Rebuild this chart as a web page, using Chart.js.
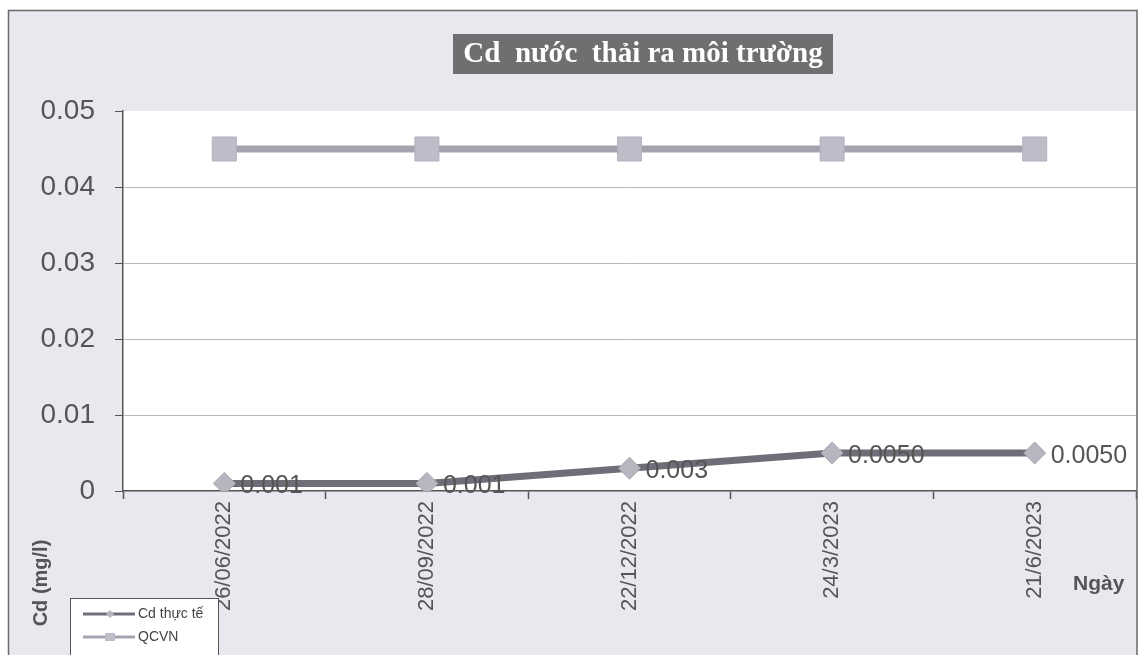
<!DOCTYPE html>
<html>
<head>
<meta charset="utf-8">
<script src="https://cdn.jsdelivr.net/npm/chart.js@4/dist/chart.umd.min.js"></script>
<style>
  html, body { margin: 0; padding: 0; background: #ffffff; }
  #wrap { width: 1143px; height: 655px; position: relative; }
</style>
</head>
<body>
<div id="wrap"><canvas id="c" width="1143" height="655"></canvas></div>
<script>
// Sampling dates and measured values
const dates = ['26/06/2022', '28/09/2022', '22/12/2022', '24/3/2023', '21/6/2023'];
const cdMeasured = [0.001, 0.001, 0.003, 0.005, 0.005];
const cdMeasuredLabels = ['0.001', '0.001', '0.003', '0.0050', '0.0050'];
const qcvnLimit = [0.045, 0.045, 0.045, 0.045, 0.045];
const yTicks = [0, 0.01, 0.02, 0.03, 0.04, 0.05];

const titleText = 'Cd  nước  thải ra môi trường';
const yTitle = 'Cd (mg/l)';
const xTitle = 'Ngày';
const seriesNames = ['Cd thực tế', 'QCVN'];

const PAGE_BG = '#e8e8ef';
const FRAME = '#6a6a6a';
const SANS = '"Liberation Sans", Arial, sans-serif';

// Page background, outer frame, heading box, axis titles and legend
const decorPlugin = {
  id: 'decor',
  beforeDraw(chart) {
    const ctx = chart.ctx;
    ctx.save();
    ctx.fillStyle = '#ffffff';
    ctx.fillRect(0, 0, chart.width, chart.height);
    ctx.fillStyle = PAGE_BG;
    ctx.fillRect(8, 10, 1129, chart.height - 10);
    const a = chart.chartArea;
    ctx.fillStyle = '#ffffff';
    ctx.fillRect(a.left, a.top, a.right - a.left, a.bottom - a.top);
    ctx.restore();
  },
  afterDraw(chart) {
    const ctx = chart.ctx;
    ctx.save();
    // outer frame
    ctx.strokeStyle = FRAME;
    ctx.lineWidth = 1.5;
    ctx.beginPath();
    ctx.moveTo(8.5, chart.height);
    ctx.lineTo(8.5, 10.5);
    ctx.lineTo(1137, 10.5);
    ctx.lineTo(1137, chart.height);
    ctx.stroke();

    // heading box
    ctx.fillStyle = '#6f6f72';
    ctx.fillRect(453, 34, 380, 40);
    ctx.fillStyle = '#ffffff';
    ctx.font = 'bold 29px "Liberation Serif", "DejaVu Serif", serif';
    ctx.textAlign = 'center';
    ctx.textBaseline = 'middle';
    ctx.fillText(titleText, 643, 55);

    // axis titles
    ctx.fillStyle = '#555555';
    ctx.font = 'bold 20px ' + SANS;
    ctx.save();
    ctx.translate(41, 583);
    ctx.rotate(-Math.PI / 2);
    ctx.textAlign = 'center';
    ctx.textBaseline = 'middle';
    ctx.fillText(yTitle, 0, 0);
    ctx.restore();
    ctx.font = 'bold 21px ' + SANS;
    ctx.textAlign = 'left';
    ctx.textBaseline = 'middle';
    ctx.fillText(xTitle, 1073, 584);

    // legend
    ctx.fillStyle = '#ffffff';
    ctx.fillRect(70, 598, 148, 60);
    ctx.strokeStyle = '#555555';
    ctx.lineWidth = 1;
    ctx.strokeRect(70.5, 598.5, 148, 60);
    const ds = chart.data.datasets;
    const rows = [614, 637];
    ds.forEach((d, i) => {
      const y = rows[i];
      ctx.strokeStyle = d.borderColor;
      ctx.lineWidth = 3;
      ctx.beginPath();
      ctx.moveTo(83, y);
      ctx.lineTo(135, y);
      ctx.stroke();
      ctx.fillStyle = d.pointBackgroundColor;
      if (d.pointStyle === 'rectRot') {
        ctx.beginPath();
        ctx.moveTo(110, y - 4);
        ctx.lineTo(114, y);
        ctx.lineTo(110, y + 4);
        ctx.lineTo(106, y);
        ctx.closePath();
        ctx.fill();
      } else {
        ctx.fillRect(105, y - 4, 10, 8);
      }
      ctx.fillStyle = '#444444';
      ctx.font = '14px ' + SANS;
      ctx.textAlign = 'left';
      ctx.textBaseline = 'middle';
      ctx.fillText(d.label, 138, y);
    });
    ctx.restore();
  }
};

// Value labels beside the measured points
const valueLabelPlugin = {
  id: 'valueLabels',
  afterDatasetsDraw(chart) {
    const ctx = chart.ctx;
    const meta = chart.getDatasetMeta(0);
    ctx.save();
    ctx.fillStyle = '#555555';
    ctx.font = '25px ' + SANS;
    ctx.textAlign = 'left';
    ctx.textBaseline = 'middle';
    meta.data.forEach((pt, i) => {
      ctx.fillText(cdMeasuredLabels[i], pt.x + 16, pt.y + 3);
    });
    ctx.restore();
  }
};

new Chart(document.getElementById('c'), {
  type: 'line',
  data: {
    labels: dates,
    datasets: [
      {
        label: seriesNames[0],
        data: cdMeasured,
        borderColor: '#6e6e78',
        borderWidth: 7,
        pointStyle: 'rectRot',
        pointRadius: 11,
        pointBackgroundColor: '#b6b6c0',
        pointBorderColor: '#a8a8b2',
        pointBorderWidth: 1,
        tension: 0,
        order: 1
      },
      {
        label: seriesNames[1],
        data: qcvnLimit,
        borderColor: '#a4a4b0',
        borderWidth: 7,
        pointStyle: 'rect',
        pointRadius: 17,
        pointBackgroundColor: '#bdbdc9',
        pointBorderColor: '#b2b2be',
        pointBorderWidth: 1,
        tension: 0,
        order: 2
      }
    ]
  },
  options: {
    responsive: false,
    animation: false,
    devicePixelRatio: 1,
    layout: { autoPadding: false, padding: { left: 0, right: 7, top: 111, bottom: 0 } },
    plugins: {
      legend: { display: false },
      title: { display: false },
      tooltip: { enabled: false }
    },
    scales: {
      x: {
        type: 'category',
        offset: true,
        grid: {
          offset: true,
          drawOnChartArea: false,
          drawTicks: true,
          tickLength: 8,
          tickColor: '#555555',
          tickWidth: 1.5
        },
        border: { color: '#555555', width: 1.5 },
        ticks: {
          minRotation: 90,
          maxRotation: 90,
          padding: 2,
          color: '#555555',
          font: { family: SANS, size: 22 }
        },
        afterFit(scale) { scale.height = 164; }
      },
      y: {
        min: 0,
        max: 0.05,
        afterBuildTicks(scale) { scale.ticks = yTicks.map(v => ({ value: v })); },
        grid: {
          color(c) {
            const v = c.tick && c.tick.value;
            return (v === 0 || v === 0.05) ? 'rgba(0,0,0,0)' : '#b8b8b8';
          },
          lineWidth: 1,
          tickColor: '#555555',
          tickLength: 8,
          drawTicks: true
        },
        border: { color: '#555555', width: 1.5 },
        ticks: {
          padding: 20,
          color: '#555555',
          font: { family: SANS, size: 28 },
          callback(v) { return v === 0 ? '0' : v.toFixed(2); }
        },
        afterFit(scale) { scale.width = 123; }
      }
    }
  },
  plugins: [decorPlugin, valueLabelPlugin]
});
</script>
</body>
</html>
